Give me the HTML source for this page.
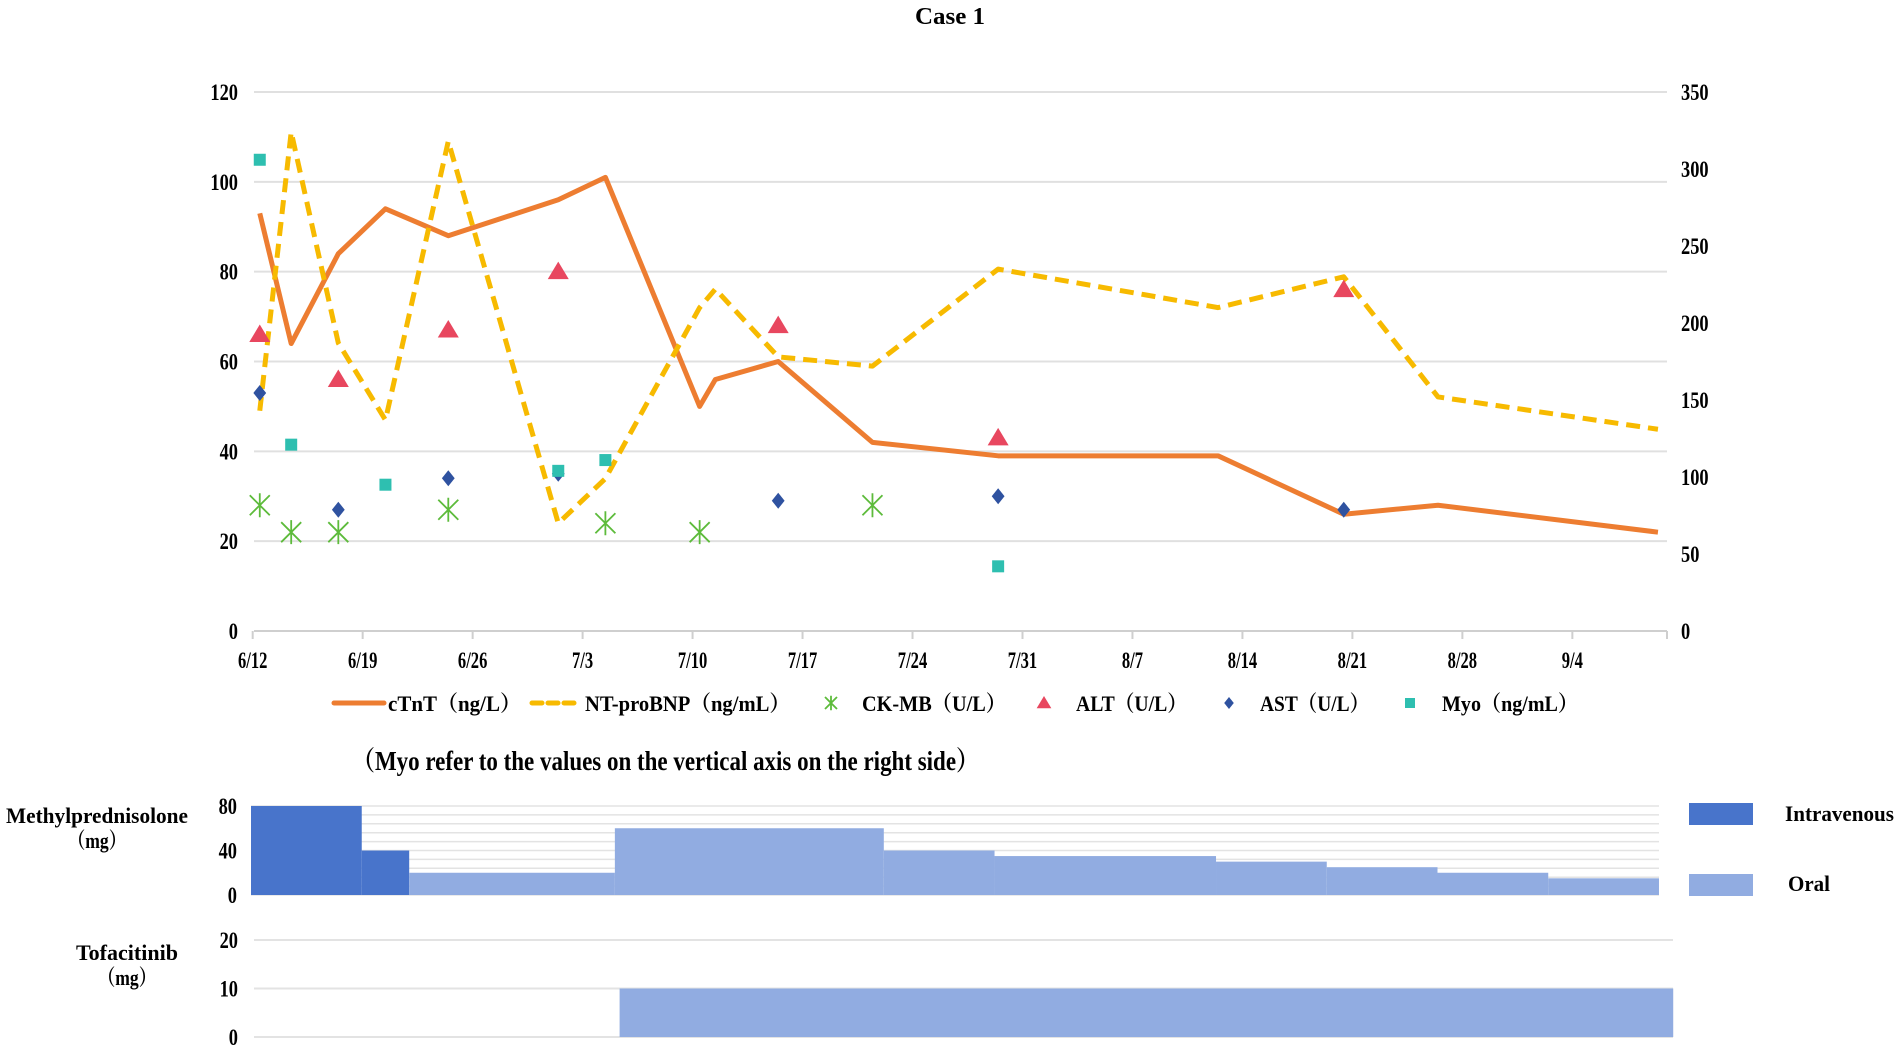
<!DOCTYPE html>
<html><head><meta charset="utf-8"><style>
html,body{margin:0;padding:0;background:#fff;}
svg{display:block;}
text{font-family:"Liberation Serif","Noto Serif CJK SC",serif;font-weight:bold;fill:#000;}
</style></head><body>
<svg id="chart" width="1900" height="1051" viewBox="0 0 1900 1051" xmlns="http://www.w3.org/2000/svg"></svg>
<script>
const dateTicks=["6/12","6/19","6/26","7/3","7/10","7/17","7/24","7/31","8/7","8/14","8/21","8/28","9/4"];
const leftTicks=[0,20,40,60,80,100,120];
const rightTicks=[0,50,100,150,200,250,300,350];
const lineDays=[0,2,5,8,12,19,22,28,29,33,39,47,61,69,75,89];
const ctntVals=[93,64,84,94,88,96,101,50,56,60,42,39,39,26,28,22];
const bnpVals=[143,324,187,137,318,70,99,210,222,178,172,235,210,230,152,131];
const ckDays=[0,2,5,12,22,28,39];
const ckVals=[28,22,22,27,24,22,28];
const altDays=[0,5,12,19,33,47,69];
const altVals=[66,56,67,80,68,43,76];
const astDays=[0,5,12,19,33,47,69];
const astVals=[53,27,34,35,29,30,27];
const myoDays=[0,2,8,19,22,47];
const myoVals=[306,121,95,104,111,42];
const mpStart=[0,7,10,23,40,47,61,68,75,82];
const mpEnd=[7,10,23,40,47,61,68,75,82,89];
const mpDose=[80,40,20,60,40,35,30,25,20,15];
const mpRoute=["iv","iv","oral","oral","oral","oral","oral","oral","oral","oral"];
const mpTicks=[0,40,80];
const tofStart=[23.3];
const tofEnd=[89.9];
const tofDose=[10];
const tofTicks=[0,10,20];

const NS="http://www.w3.org/2000/svg";
const svg=document.getElementById('chart');
function mk(tag,attrs,parent){const e=document.createElementNS(NS,tag);for(const k in attrs)e.setAttribute(k,attrs[k]);(parent||svg).appendChild(e);return e;}
function txt(s,x,y,size,anchor,sx,parent){const e=mk('text',{x:0,y:0,'font-size':size,'text-anchor':anchor||'start',transform:`translate(${x},${y}) scale(${sx||0.72},1)`},parent);e.textContent=s;return e;}
function txtL(s,x,y,size,len,parent){const e=mk('text',{x:x,y:y,'font-size':size,textLength:len,lengthAdjust:'spacingAndGlyphs'},parent);e.textContent=s;return e;}

const X0=252.7, DAY=15.71, OFF=0.45;
const xd=d=>X0+d*DAY;
const xp=d=>X0+(d+OFF)*DAY;
const Y0=631, Y120=92;
const yL=v=>Y0-v*(Y0-Y120)/120;
const yR=v=>Y0-v*(Y0-Y120)/350;

let t=txtL("Case 1",915,24,24,70,svg);



const grid=mk('g',{});


leftTicks.forEach(v=>{mk('line',{x1:254,x2:1667,y1:yL(v),y2:yL(v),stroke:v===0?'#cfcfcf':'#e0e0e0','stroke-width':2},grid);});
const lt=mk('g',{});
leftTicks.forEach(v=>txt(String(v),238,yL(v)+8,23,'end',0.8,lt));
const rt=mk('g',{});
rightTicks.forEach(v=>txt(String(v),1681,yR(v)+8,23,'start',0.8,rt));
const xa=mk('g',{});
dateTicks.forEach((s,i)=>{const x=xd(i*7);mk('line',{x1:x,x2:x,y1:Y0,y2:Y0+8,stroke:'#cfcfcf','stroke-width':2},xa);txt(s,x,668,23,'middle',0.72,xa);});
mk('line',{x1:1667,x2:1667,y1:Y0,y2:Y0+8,stroke:'#cfcfcf','stroke-width':2},xa);

let p=lineDays.map((d,i)=>`${xp(d)},${yL(ctntVals[i])}`).join(' ');
let pl=mk('polyline',{points:p,fill:'none',stroke:'#ED7D31','stroke-width':5,'stroke-linejoin':'round'});


p=lineDays.map((d,i)=>`${xp(d)},${yR(bnpVals[i])}`).join(' ');
pl=mk('polyline',{points:p,fill:'none',stroke:'#F7BA00','stroke-width':5,'stroke-dasharray':'14 8','stroke-linejoin':'round'});



function star(x,y,g,r){r=r||10;mk('path',{d:`M${x-r},${y-r}L${x+r},${y+r}M${x-r},${y+r}L${x+r},${y-r}M${x},${y-r*1.2}L${x},${y+r*1.2}`,stroke:'#5DBB3B','stroke-width':1.8,fill:'none'},g);}
function tri(x,y,g,r){r=r||10;mk('polygon',{points:`${x},${y-r} ${x+r*1.05},${y+r*0.75} ${x-r*1.05},${y+r*0.75}`,fill:'#E8475F'},g);}
function dia(x,y,g,r){r=r||8;mk('polygon',{points:`${x},${y-r} ${x+r*0.8},${y} ${x},${y+r} ${x-r*0.8},${y}`,fill:'#2F52A0'},g);}
function sq(x,y,g,r){r=r||6;mk('rect',{x:x-r,y:y-r,width:2*r,height:2*r,fill:'#2EBFB0'},g);}

let g=mk('g',{});
ckDays.forEach((d,i)=>star(xp(d),yL(ckVals[i]),g));
g=mk('g',{});
altDays.forEach((d,i)=>tri(xp(d),yL(altVals[i]),g));
g=mk('g',{});
astDays.forEach((d,i)=>dia(xp(d),yL(astVals[i]),g));
g=mk('g',{});
myoDays.forEach((d,i)=>sq(xp(d),yR(myoVals[i]),g));

const lg=mk('g',{});
const LY=703;
let e=mk('g',{},lg);
mk('line',{x1:334,x2:384,y1:LY,y2:LY,stroke:'#ED7D31','stroke-width':5,'stroke-linecap':'round'},e);
txtL("cTnT（ng/L）",388,LY+8,22,133,e);
e=mk('g',{},lg);
mk('line',{x1:532,x2:578,y1:LY,y2:LY,stroke:'#F7BA00','stroke-width':5,'stroke-dasharray':'10 6','stroke-linecap':'round'},e);
txtL("NT-proBNP（ng/mL）",585,LY+8,22,205,e);
e=mk('g',{},lg);
star(831,LY,e,6);txtL("CK-MB（U/L）",862,LY+8,22,144,e);
e=mk('g',{},lg);
tri(1044,LY,e,7);txtL("ALT（U/L）",1076,LY+8,22,111,e);
e=mk('g',{},lg);
dia(1229,LY,e,6);txtL("AST（U/L）",1260,LY+8,22,109,e);
e=mk('g',{},lg);
sq(1410,LY,e,5);txtL("Myo（ng/mL）",1442,LY+8,22,136,e);

t=txtL("（Myo refer to the values on the vertical axis on the right side）",352,770,27,627,svg);



const BX0=251, BDAY=15.82;
const xb=d=>BX0+d*BDAY;
const MY0=895, MYK=(895-806)/80;
const ym=v=>MY0-v*MYK;
const mg=mk('g',{});
for(let v=0;v<=80;v+=8){mk('line',{x1:251,x2:1659,y1:ym(v),y2:ym(v),stroke:'#e3e3e3','stroke-width':1.5},mg);}
mpStart.forEach((s,i)=>{const r=mk('rect',{x:xb(s),y:ym(mpDose[i]),width:xb(mpEnd[i])-xb(s),height:ym(0)-ym(mpDose[i]),fill:mpRoute[i]==='iv'?'#4874CB':'#91ACE1'},mg);

});
mpTicks.forEach(v=>txt(String(v),237,ym(v)+8,23,'end',0.8,mg));
t=txtL("Methylprednisolone",6,823,22,182,svg);


txt("（mg）",97,848,22,'middle',0.8,svg);

const TY0=1037, TYK=(1037-940)/20;
const yt=v=>TY0-v*TYK;
const tg=mk('g',{});
tofTicks.forEach(v=>{mk('line',{x1:254,x2:1673,y1:yt(v),y2:yt(v),stroke:'#e3e3e3','stroke-width':2},tg);txt(String(v),238,yt(v)+8,23,'end',0.8,tg);});
tofStart.forEach((s,i)=>{const r=mk('rect',{x:xb(s),y:yt(tofDose[i]),width:xb(tofEnd[i])-xb(s),height:yt(0)-yt(tofDose[i]),fill:'#91ACE1'},tg);

});
t=txtL("Tofacitinib",76,960,22,102,svg);


txt("（mg）",127,985,22,'middle',0.8,svg);

const rl=mk('g',{});
mk('rect',{x:1689,y:803,width:64,height:22,fill:'#4874CB'},rl);
txtL("Intravenous",1785,821,22,109,rl);
mk('rect',{x:1689,y:874,width:64,height:22,fill:'#91ACE1'},rl);
txtL("Oral",1788,891,22,42,rl);
</script>
</body></html>
